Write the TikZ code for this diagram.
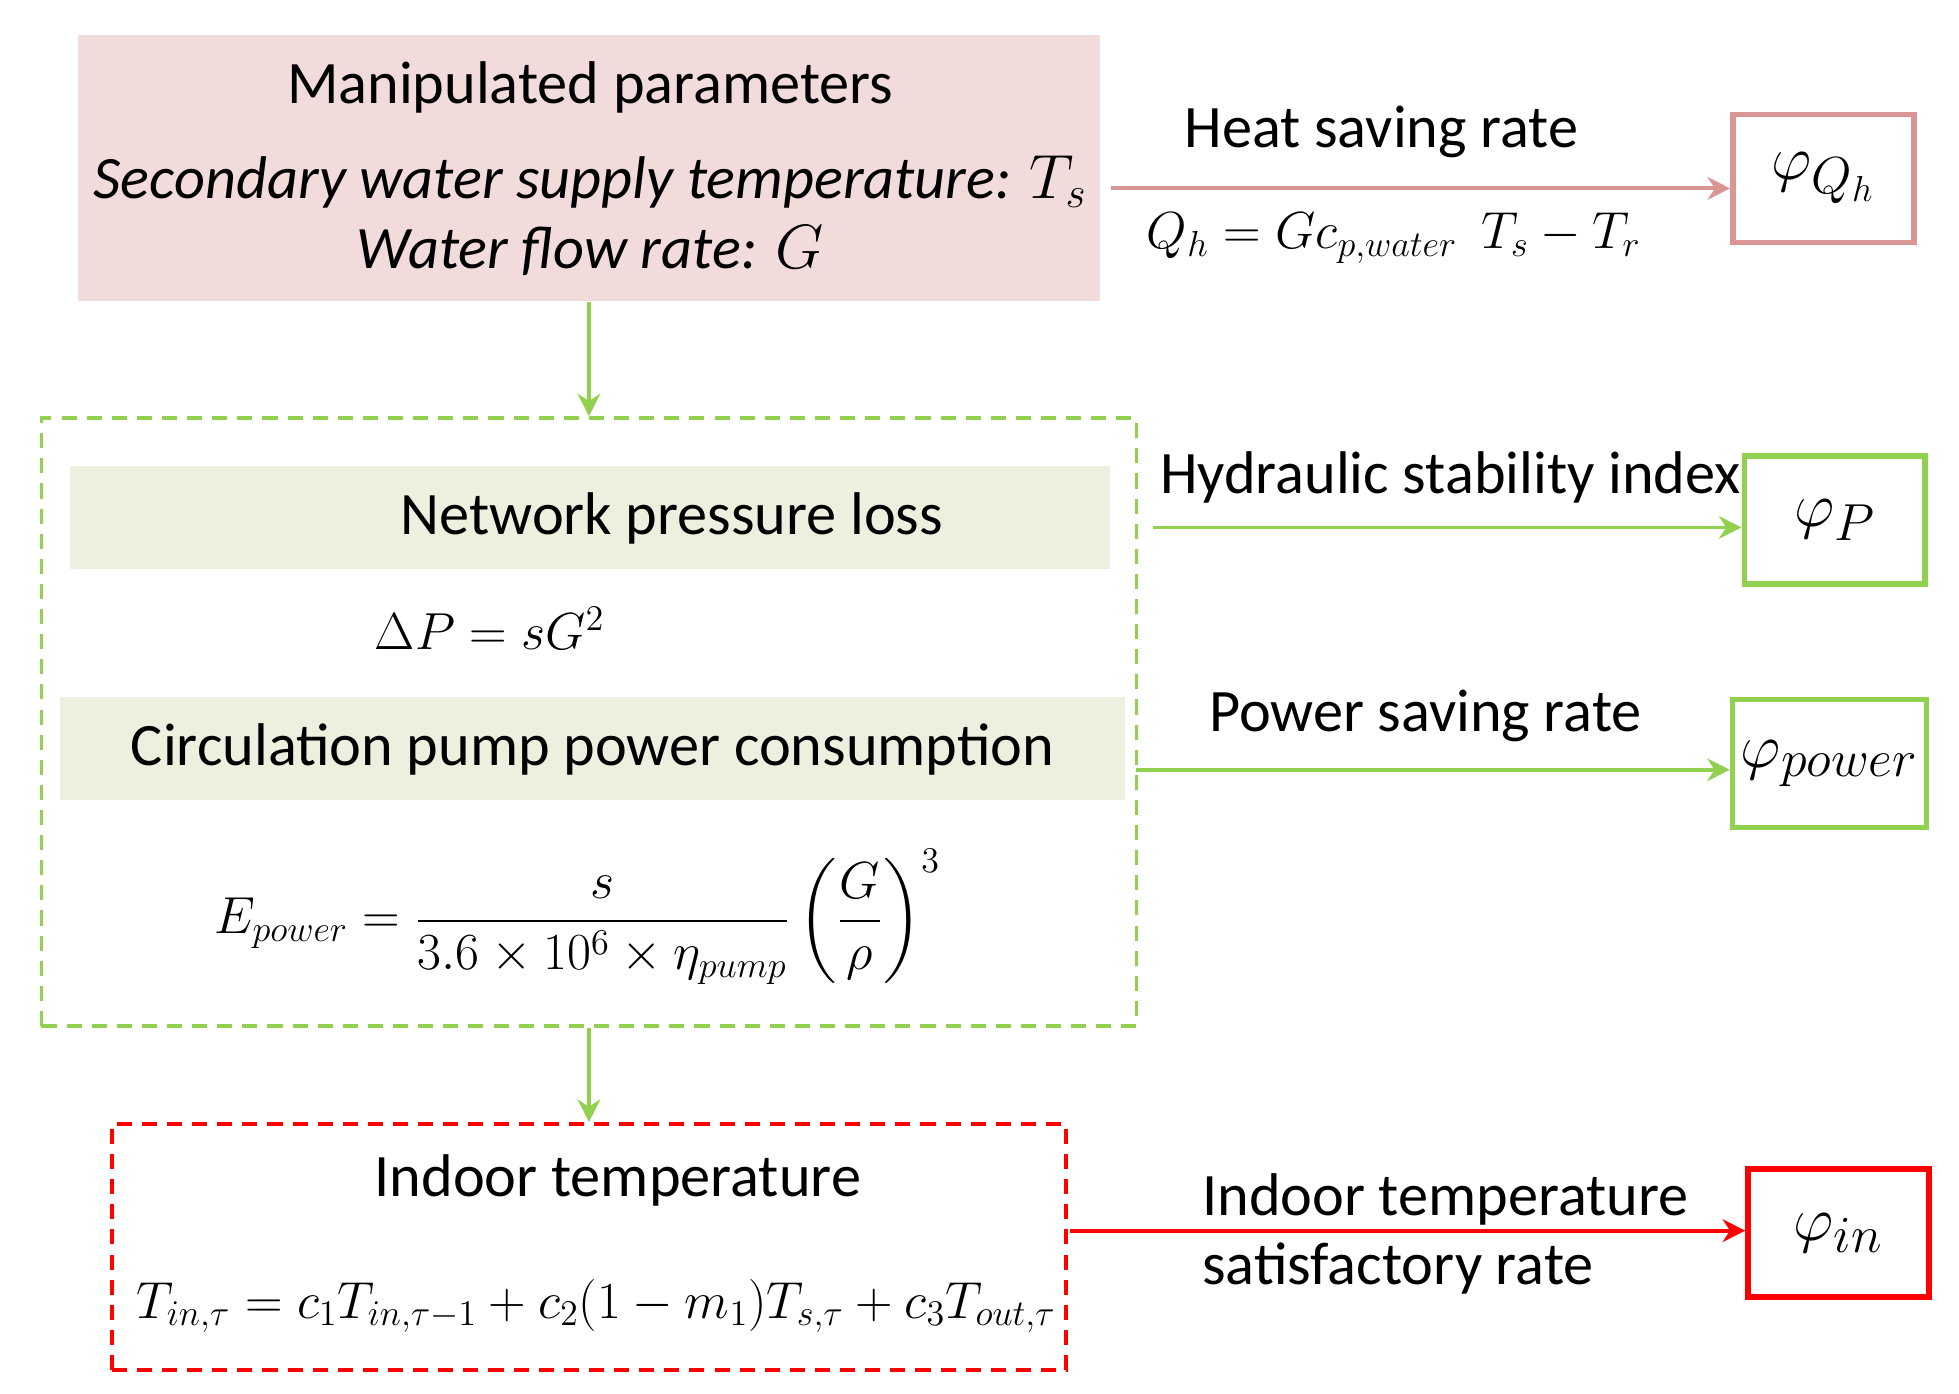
\documentclass[tikz,border=0pt]{standalone}
\usepackage{amsmath}
\usepackage{fontspec}
\setmainfont{Carlito}
\usetikzlibrary{arrows.meta}
\definecolor{pk}{HTML}{F2DCDB}\definecolor{pks}{HTML}{D99694}
\definecolor{gr}{HTML}{92D050}\definecolor{gf}{HTML}{EBF1DE}
\definecolor{rd}{HTML}{FF0000}
\begin{document}
\begin{tikzpicture}[x=0.5pt,y=-0.5pt,
 t/.style={font=\fontsize{24}{28}\selectfont,inner sep=0},
 m/.style={font=\fontsize{21}{24}\selectfont,inner sep=0},
 arr/.style={line width=1.5pt,-{Stealth[length=9pt,width=9pt]}},
 dsh/.style={dash pattern=on 6pt off 4pt,line width=1.5pt},
 res/.style={draw,line width=2.2pt,minimum width=72pt,minimum height=51pt,font=\fontsize{28}{30}\selectfont}]
\useasboundingbox (0,0) rectangle (1560,1110);
% top box
\node[fill=pk,minimum width=407pt,minimum height=106pt,inner sep=0] (mp) at (469,134) {};
\node[t] at (470,70) {Manipulated parameters};
\node[t] at (470,145) {\itshape Secondary water supply temperature: $T_s$};
\node[t] at (470,200) {\itshape Water flow rate: $G$};
\node[res,draw=pks] (pq) at (1452,142) {$\varphi_{Q_h}$};
\coordinate (pqs) at (885,150);
\draw[arr,pks] (pqs) -- (pq.west|-pqs);
\node[t] at (1100,105) {Heat saving rate};
\node[m] at (1110,190) {$Q_h=Gc_{p,water}\ \ T_s-T_r$};
% green dashed box
\node[draw=gr,dsh,minimum width=436pt,minimum height=242pt,inner sep=0] (gb) at (469,575) {};
\draw[arr,gr] (mp.south) -- (gb.north);
\node[fill=gf,minimum width=414pt,minimum height=41pt,inner sep=0] (np) at (470,412) {};
\node[t] at (535,413) {Network pressure loss};
\node[m] at (390,500) {$\Delta P=sG^2$};
\node[fill=gf,minimum width=424pt,minimum height=41pt,inner sep=0] (cp) at (472,596) {};
\node[t] at (472,597) {Circulation pump power consumption};
\node[m] at (460,730) {$E_{power}=\dfrac{s}{3.6\times10^6\times\eta_{pump}}\left(\dfrac{G}{\rho}\right)^{3}$};
\node[res,draw=gr] (pp) at (1461,414) {$\varphi_P$};
\coordinate (pps) at (918,420);
\draw[arr,gr] (pps) -- (pp.west|-pps);
\node[t] at (1155,380) {Hydraulic stability index};
\node[res,draw=gr] (pw) at (1457,608) {$\varphi_{power}$};
\coordinate (pws) at (905,613);
\draw[arr,gr] (pws) -- (pw.west|-pws);
\node[t] at (1135,570) {Power saving rate};
% red box
\node[draw=rd,dsh,minimum width=380pt,minimum height=98pt,inner sep=0] (rb) at (469,993) {};
\draw[arr,gr] (gb.south) -- (rb.north);
\node[t] at (492,940) {Indoor temperature};
\node[m] at (475,1040) {$T_{in,\tau}=c_1T_{in,\tau-1}+c_2(1-m_1)T_{s,\tau}+c_3T_{out,\tau}$};
\node[res,draw=rd] (pi) at (1464,982) {$\varphi_{in}$};
\coordinate (pis) at (852,980);
\draw[arr,rd] (pis) -- (pi.west|-pis);
\node[t,anchor=west] at (957,955) {Indoor temperature};
\node[t,anchor=west] at (957,1010) {satisfactory rate};
\end{tikzpicture}
\end{document}
